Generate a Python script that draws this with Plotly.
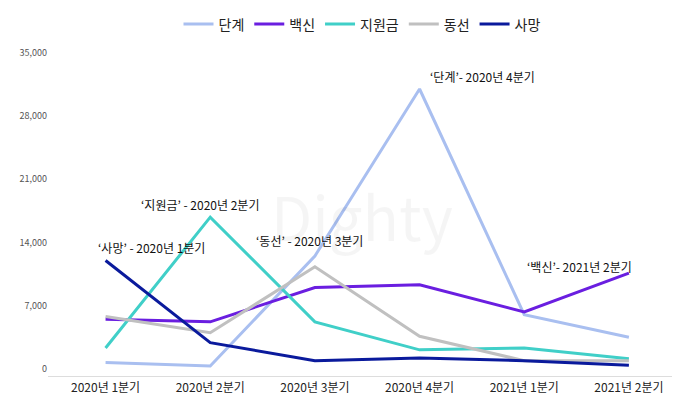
import plotly.graph_objects as go

quarters = ["2020년 1분기", "2020년 2분기", "2020년 3분기", "2020년 4분기", "2021년 1분기", "2021년 2분기"]
names = ["단계", "백신", "지원금", "동선", "사망"]
colors = ["#a9bff0", "#6a1ee0", "#40cfc8", "#c0c0c0", "#0a1a9c"]
s_dangye = [700, 300, 12500, 31000, 6000, 3500]
s_baeksin = [5500, 5200, 9000, 9300, 6300, 10600]
s_jiwon = [2300, 16800, 5200, 2100, 2300, 1100]
s_dongseon = [5800, 4000, 11300, 3600, 900, 900]
s_samang = [12000, 2900, 900, 1200, 900, 400]
series = [s_dangye, s_baeksin, s_jiwon, s_dongseon, s_samang]
ticks = [0, 7000, 14000, 21000, 28000, 35000]

F = "Noto Sans CJK KR"
fig = go.Figure()
for n, c, s in zip(names, colors, series):
    fig.add_trace(go.Scatter(x=quarters, y=s, name=n, mode="lines", line=dict(color=c, width=3)))

ann = [
    (3, s_dangye[3], "‘단계’- 2020년 4분기", 8, 2, "left"),
    (1, s_jiwon[1], "‘지원금’ - 2020년 2분기", -10, 2, "center"),
    (2, s_dongseon[2], "‘동선’ - 2020년 3분기", -5, 16, "center"),
    (0, s_samang[0], "‘사망’ - 2020년 1분기", -10, 2, "left"),
    (5, s_baeksin[5], "‘백신’- 2021년 2분기", 5, -4, "right"),
]
for i, y, t, dx, dy, xa in ann:
    fig.add_annotation(x=quarters[i], y=y, text=t, showarrow=False, xanchor=xa, yanchor="bottom",
                       xshift=dx, yshift=dy, font=dict(family=F, size=12, color="#111"))
fig.add_annotation(x=0.5, y=0.5, xref="paper", yref="paper", text="Dighty", showarrow=False,
                   font=dict(family=F, size=60, color="rgba(0,0,0,0.04)"))
fig.update_layout(
    width=680, height=410, margin=dict(l=40, r=12, t=44, b=42, autoexpand=False),
    paper_bgcolor="white", plot_bgcolor="white",
    font=dict(family=F, size=11, color="#333"),
    legend=dict(orientation="h", x=0.5, xanchor="center", y=1.085, yanchor="middle",
                font=dict(family=F, size=14, color="#222")),
    xaxis=dict(range=[-0.55, 5.45], showgrid=False, showline=True, linecolor="#ddd",
               tickfont=dict(size=12, color="#222"), ticklabelstandoff=1),
    yaxis=dict(range=[-800, 35100], tickvals=ticks, tickformat=",", showgrid=False, zeroline=False,
               tickfont=dict(size=9, color="#555")),
)
fig.write_html("out.html")
